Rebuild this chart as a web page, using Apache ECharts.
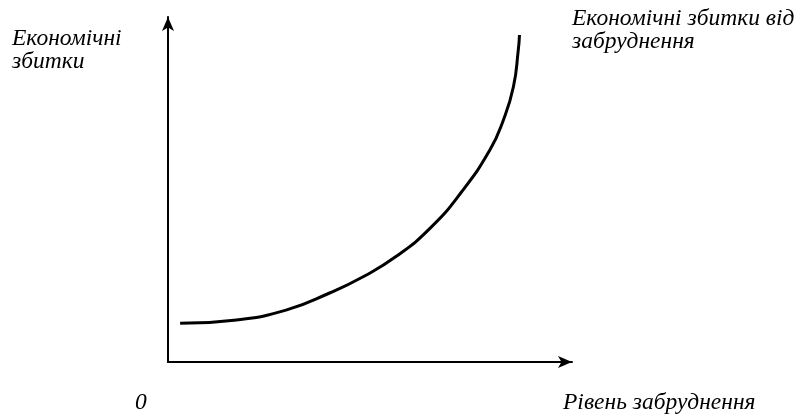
<!DOCTYPE html>
<html>
<head>
<meta charset="utf-8">
<script src="https://cdn.jsdelivr.net/npm/echarts@6/dist/echarts.min.js"></script>
<style>html,body{margin:0;padding:0;background:#fff;}#c{width:806px;height:418px;}</style>
</head>
<body>
<div id="c"></div>
<script>
// Pollution level (x, relative units) and economic damage (y, relative units)
const pollution = [3.0, 17.0, 29.4, 40.0, 48.3, 56.6, 64.9, 72.6, 79.7, 83.0, 85.5, 86.7, 87.0];
const damage    = [11.2, 12.2, 15.1, 20.0, 24.7, 30.7, 38.8, 49.2, 61.5, 70.1, 79.8, 90.4, 94.8];
const yTitle = ['Економічні', 'збитки'];
const curveTitle = ['Економічні збитки від', 'забруднення'];
const xTitle = 'Рівень забруднення';
const originLabel = '0';

const txt = {fontFamily: 'Liberation Serif', fontStyle: 'italic', fontSize: 23.5, fill: '#000', lineHeight: 23};
const chart = echarts.init(document.getElementById('c'), null, {renderer: 'canvas'});
const axisLine = {show: true, symbol: ['none', 'arrow'], symbolSize: [9, 14], symbolOffset: [0, 0], lineStyle: {color: '#000', width: 2}};
chart.setOption({
  animation: false,
  backgroundColor: '#fff',
  grid: {left: 168, right: 234, top: 17, bottom: 56, containLabel: false},
  xAxis: {type: 'value', min: 0, max: 100, axisLine: axisLine, axisTick: {show: false}, axisLabel: {show: false}, splitLine: {show: false}},
  yAxis: {type: 'value', min: 0, max: 100, axisLine: axisLine, axisTick: {show: false}, axisLabel: {show: false}, splitLine: {show: false}},
  series: [{
    type: 'line',
    data: pollution.map((x, i) => [x, damage[i]]),
    smooth: 0.5,
    showSymbol: false,
    lineStyle: {color: '#000', width: 3}
  }],
  graphic: [
    {type: 'text', left: 12, top: 27, style: Object.assign({text: yTitle.join('\n')}, txt)},
    {type: 'text', left: 572, top: 7, style: Object.assign({text: curveTitle.join('\n')}, txt)},
    {type: 'text', left: 135, top: 391, style: Object.assign({text: originLabel}, txt)},
    {type: 'text', left: 563, top: 391, style: Object.assign({text: xTitle}, txt)}
  ]
});
</script>
</body>
</html>
